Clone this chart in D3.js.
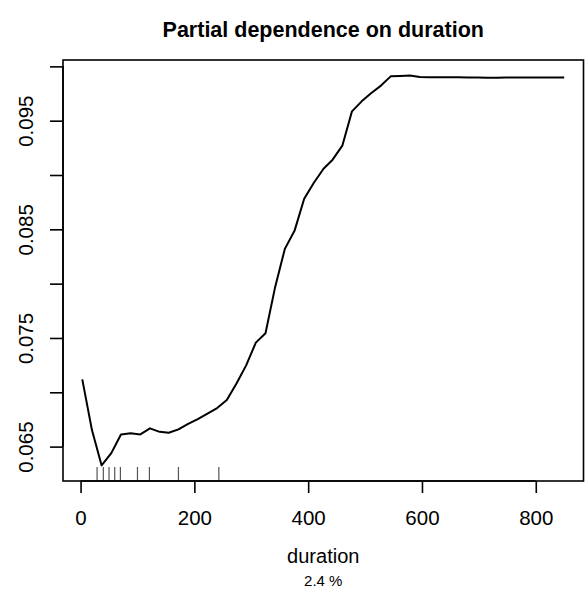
<!DOCTYPE html>
<html>
<head>
<meta charset="utf-8">
<script src="https://cdn.jsdelivr.net/npm/d3@7"></script>
<style>
  html, body { margin: 0; padding: 0; background: #fff; }
  svg { display: block; font-family: "Liberation Sans", Arial, Helvetica, sans-serif; }
</style>
</head>
<body>
<svg id="chart" width="588" height="595"></svg>
<script>
// ---- data ----
const durationGrid = [3, 20, 37, 54, 71, 88, 105, 122, 139, 155, 172, 189, 206, 223, 240, 257, 274, 291, 308, 325,
  342, 359, 376, 393, 410, 427, 443, 460, 477, 494, 511, 528, 545, 562, 579, 596, 613, 630, 647, 664,
  681, 698, 715, 731, 748, 765, 782, 799, 816, 833, 850];
const partialDep = [0.07119, 0.06652, 0.06327, 0.06440, 0.06612, 0.06622, 0.06612, 0.06668, 0.06636, 0.06627,
  0.06659, 0.06710, 0.06753, 0.06804, 0.06855, 0.06929, 0.07081, 0.07248, 0.07457, 0.07543,
  0.07970, 0.08320, 0.08486, 0.08781, 0.08929, 0.09058, 0.09141, 0.09270, 0.09586, 0.09678,
  0.09755, 0.09823, 0.09908, 0.09912, 0.09915, 0.09903, 0.09900, 0.09899, 0.09899, 0.09899,
  0.09898, 0.09897, 0.09896, 0.09896, 0.09897, 0.09898, 0.09898, 0.09898, 0.09898, 0.09898, 0.09898];
const rugDeciles = [29, 40, 50, 60, 70, 100, 121, 172, 243];
const xTicks = [0, 200, 400, 600, 800];
const yTicks = [0.065, 0.070, 0.075, 0.080, 0.085, 0.090, 0.095, 0.100];
const yTickLabels = ["0.065", "", "0.075", "", "0.085", "", "0.095", ""];
const titleText = "Partial dependence on duration";
const xLabel = "duration";
const subText = "2.4 %";

// ---- layout ----
const box = { left: 63, right: 583.5, top: 60, bottom: 481 };
const svg = d3.select("#chart");

function padExtent(ext) {
  const p = (ext[1] - ext[0]) * 0.04;
  return [ext[0] - p, ext[1] + p];
}
const x = d3.scaleLinear().domain(padExtent(d3.extent(durationGrid))).range([box.left, box.right]);
const y = d3.scaleLinear().domain(padExtent(d3.extent(partialDep))).range([box.bottom, box.top]);

// curve
const pts = durationGrid.map((d, i) => [d, partialDep[i]]);
svg.append("path")
  .datum(pts)
  .attr("fill", "none")
  .attr("stroke", "#000")
  .attr("stroke-width", 2)
  .attr("stroke-linejoin", "round")
  .attr("d", d3.line().x(d => x(d[0])).y(d => y(d[1])));

// rug
svg.append("g").selectAll("line")
  .data(rugDeciles)
  .join("line")
  .attr("x1", d => x(d)).attr("x2", d => x(d))
  .attr("y1", box.bottom - 14).attr("y2", box.bottom)
  .attr("stroke", "#555")
  .attr("stroke-width", 1.2);

// box
svg.append("rect")
  .attr("x", box.left).attr("y", box.top)
  .attr("width", box.right - box.left).attr("height", box.bottom - box.top)
  .attr("fill", "none").attr("stroke", "#000").attr("stroke-width", 1.6);

// x axis
const xAxis = svg.append("g")
  .attr("transform", `translate(0,${box.bottom})`)
  .call(d3.axisBottom(x).tickValues(xTicks).tickSize(12).tickFormat(d3.format("d")));
xAxis.select(".domain").remove();
xAxis.selectAll(".tick line").attr("stroke", "#000").attr("stroke-width", 1.6);
xAxis.append("line")
  .attr("x1", x(xTicks[0])).attr("x2", x(xTicks[xTicks.length - 1]))
  .attr("stroke", "#000").attr("stroke-width", 1.6);
xAxis.selectAll(".tick text")
  .attr("y", 44).attr("dy", null)
  .attr("fill", "#000")
  .style("font-size", "20.5px")
  .style("font-family", "'Liberation Sans', Arial, sans-serif");

// y axis
const yAxis = svg.append("g")
  .attr("transform", `translate(${box.left},0)`)
  .call(d3.axisLeft(y).tickValues(yTicks).tickSize(13).tickFormat((d, i) => yTickLabels[i]));
yAxis.select(".domain").remove();
yAxis.selectAll(".tick line").attr("stroke", "#000").attr("stroke-width", 1.6);
yAxis.append("line")
  .attr("y1", y(yTicks[0])).attr("y2", y(yTicks[yTicks.length - 1]))
  .attr("stroke", "#000").attr("stroke-width", 1.6);
yAxis.selectAll(".tick text")
  .attr("x", null).attr("dy", null)
  .attr("transform", "translate(-30,0) rotate(-90)")
  .attr("text-anchor", "middle")
  .attr("fill", "#000")
  .style("font-size", "20.5px")
  .style("font-family", "'Liberation Sans', Arial, sans-serif");

const cx = (box.left + box.right) / 2;
// title
svg.append("text")
  .attr("x", cx).attr("y", 37)
  .attr("text-anchor", "middle")
  .style("font-size", "21.5px").style("font-weight", "bold")
  .text(titleText);
// x label
svg.append("text")
  .attr("x", cx).attr("y", 563)
  .attr("text-anchor", "middle")
  .style("font-size", "20px")
  .text(xLabel);
// sub
svg.append("text")
  .attr("x", cx).attr("y", 586)
  .attr("text-anchor", "middle")
  .style("font-size", "15px")
  .text(subText);
</script>
</body>
</html>
